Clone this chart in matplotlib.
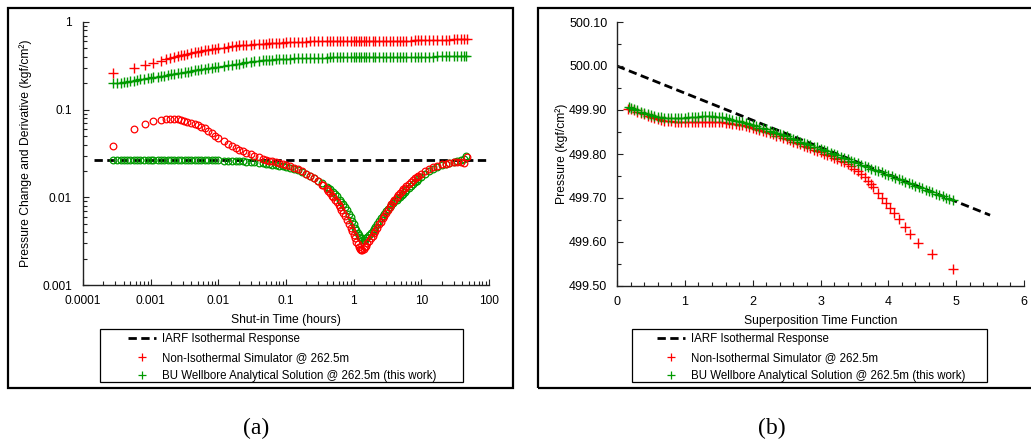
import numpy as np
import matplotlib.pyplot as plt
from matplotlib.patches import Rectangle
from matplotlib.lines import Line2D
from matplotlib.ticker import FixedLocator, NullFormatter, MultipleLocator, FormatStrFormatter

plt.rcParams['font.family'] = ['Liberation Sans', 'DejaVu Sans']

RED = '#ff0000'
GREEN = '#009a00'

# ---- panel (a): log-log diagnostic ----
iarf_level = 0.0265
iarf_t = [0.000146, 100]

t_sim = [0.00028, 0.00056, 0.00083, 0.0011, 0.0014, 0.0017, 0.0019, 0.0022, 0.0025, 0.0028,
         0.0031, 0.0035, 0.004, 0.0045, 0.005, 0.0056, 0.0063, 0.0071, 0.008, 0.009,
         0.01, 0.012, 0.014, 0.016, 0.018, 0.02, 0.023, 0.026, 0.03, 0.034,
         0.04, 0.045, 0.05, 0.056, 0.063, 0.07, 0.08, 0.09, 0.1, 0.115,
         0.13, 0.15, 0.17, 0.2, 0.23, 0.26, 0.3, 0.34, 0.4, 0.45,
         0.5, 0.56, 0.63, 0.7, 0.8, 0.9, 1.0, 1.1, 1.2, 1.3,
         1.4, 1.5, 1.7, 1.9, 2.1, 2.4, 2.7, 3.0, 3.4, 3.8,
         4.3, 4.8, 5.4, 6, 7, 8, 9, 10, 11.5, 13,
         15, 17, 20, 23, 26, 30, 34, 38, 43, 47]
dp_sim = [0.265, 0.295, 0.322, 0.342, 0.36, 0.375, 0.387, 0.40, 0.41, 0.418,
          0.425, 0.433, 0.442, 0.45, 0.46, 0.468, 0.475, 0.482, 0.49, 0.496,
          0.50, 0.51, 0.52, 0.53, 0.535, 0.54, 0.545, 0.55, 0.553, 0.557,
          0.561, 0.564, 0.567, 0.57, 0.573, 0.576, 0.58, 0.583, 0.585, 0.588,
          0.59, 0.592, 0.594, 0.597, 0.60, 0.602, 0.604, 0.605, 0.606, 0.607,
          0.608, 0.608, 0.607, 0.607, 0.606, 0.606, 0.606, 0.606, 0.606, 0.607,
          0.607, 0.607, 0.607, 0.608, 0.608, 0.608, 0.609, 0.609, 0.61, 0.61,
          0.611, 0.612, 0.613, 0.614, 0.615, 0.616, 0.617, 0.618, 0.62, 0.621,
          0.622, 0.624, 0.627, 0.629, 0.631, 0.632, 0.634, 0.635, 0.636, 0.636]
dd_sim = [0.0383, 0.060, 0.068, 0.074, 0.0765, 0.0777, 0.078, 0.078, 0.0775, 0.0765,
          0.075, 0.073, 0.071, 0.0685, 0.0665, 0.064, 0.061, 0.057, 0.0535, 0.0505,
          0.048, 0.044, 0.041, 0.0385, 0.0365, 0.035, 0.0335, 0.0322, 0.031, 0.0298,
          0.0285, 0.0277, 0.027, 0.0263, 0.0257, 0.0251, 0.0245, 0.0238, 0.0233, 0.0225,
          0.0218, 0.0208, 0.0199, 0.0187, 0.0175, 0.0164, 0.0152, 0.014, 0.0124, 0.0111,
          0.010, 0.0089, 0.0078, 0.0067, 0.0055, 0.0045, 0.0037, 0.0031, 0.0027, 0.0025,
          0.0026, 0.0028, 0.0032, 0.0036, 0.0041, 0.0049, 0.0058, 0.0066, 0.0078, 0.0088,
          0.0100, 0.0112, 0.0124, 0.0134, 0.0150, 0.0164, 0.0176, 0.0186, 0.0198, 0.0208,
          0.022, 0.0229, 0.0237, 0.0243, 0.0247, 0.025, 0.0252, 0.0253, 0.0245, 0.0288]

# extra simulator derivative samples read in the steep dip (t, value)
t_sim_dip = [0.35, 0.42, 0.48, 0.53, 0.6, 0.66, 0.75, 0.85, 0.95, 1.05,
             1.15, 1.25, 1.35, 1.45, 1.6, 1.8, 2.0, 2.25, 2.55, 2.85,
             3.2, 3.6, 4.0, 4.55, 5.1, 5.7, 6.5, 7.5, 8.5]
dd_sim_dip = [0.0137, 0.0118, 0.0104, 0.0094, 0.0082, 0.0072, 0.0061, 0.0050, 0.0041, 0.0034,
              0.0029, 0.0026, 0.0025, 0.0027, 0.0030, 0.0034, 0.0039, 0.0045, 0.0053, 0.0062,
              0.0072, 0.0083, 0.0094, 0.0106, 0.0118, 0.0129, 0.0142, 0.0157, 0.0170]

t_bu = [0.00028, 0.00032, 0.00036, 0.0004, 0.00045, 0.0005, 0.00056, 0.00063, 0.0007, 0.0008,
        0.0009, 0.001, 0.0011, 0.0013, 0.0014, 0.0016, 0.0018, 0.002, 0.0022, 0.0025,
        0.0028, 0.0032, 0.0036, 0.004, 0.0045, 0.005, 0.0056, 0.0063, 0.007, 0.008,
        0.009, 0.01, 0.012, 0.014, 0.016, 0.018, 0.02, 0.023, 0.026, 0.03,
        0.034, 0.04, 0.045, 0.05, 0.056, 0.063, 0.07, 0.08, 0.09, 0.1,
        0.115, 0.13, 0.15, 0.17, 0.2, 0.23, 0.26, 0.3, 0.34, 0.4,
        0.45, 0.5, 0.56, 0.63, 0.7, 0.8, 0.9, 1.0, 1.1, 1.2,
        1.3, 1.4, 1.5, 1.7, 1.9, 2.1, 2.4, 2.7, 3.0, 3.4,
        3.8, 4.3, 4.8, 5.4, 6, 7, 8, 9, 10, 11.5,
        13, 15, 17, 20, 23, 26, 30, 34, 38, 43, 46]
dp_bu = [0.199, 0.201, 0.204, 0.206, 0.209, 0.212, 0.215, 0.218, 0.221, 0.224,
         0.227, 0.230, 0.233, 0.238, 0.241, 0.245, 0.249, 0.252, 0.255, 0.259,
         0.263, 0.268, 0.272, 0.276, 0.281, 0.286, 0.29, 0.294, 0.298, 0.302,
         0.306, 0.309, 0.316, 0.321, 0.327, 0.332, 0.336, 0.341, 0.346, 0.351,
         0.355, 0.36, 0.364, 0.367, 0.37, 0.373, 0.375, 0.378, 0.38, 0.381,
         0.383, 0.385, 0.386, 0.387, 0.389, 0.39, 0.391, 0.392, 0.393, 0.393,
         0.394, 0.394, 0.394, 0.394, 0.394, 0.394, 0.394, 0.394, 0.394, 0.394,
         0.394, 0.394, 0.394, 0.395, 0.395, 0.395, 0.395, 0.395, 0.396, 0.396,
         0.396, 0.396, 0.396, 0.396, 0.397, 0.398, 0.399, 0.40, 0.401, 0.402,
         0.403, 0.404, 0.405, 0.406, 0.407, 0.408, 0.409, 0.41, 0.41, 0.411, 0.411]
dd_bu = [0.0266, 0.0266, 0.0266, 0.0266, 0.0266, 0.0266, 0.0266, 0.0266, 0.0266, 0.0266,
         0.0266, 0.0266, 0.0266, 0.0266, 0.0266, 0.0266, 0.0266, 0.0266, 0.0266, 0.0266,
         0.0266, 0.0266, 0.0266, 0.0266, 0.0266, 0.0266, 0.0265, 0.0265, 0.0265, 0.0265,
         0.0264, 0.0264, 0.0263, 0.0262, 0.0261, 0.026, 0.0259, 0.0257, 0.0255, 0.0252,
         0.025, 0.0247, 0.0244, 0.0242, 0.0239, 0.0236, 0.0233, 0.0229, 0.0225, 0.0221,
         0.0216, 0.0211, 0.0204, 0.0197, 0.0187, 0.0177, 0.0168, 0.0155, 0.0144, 0.0132,
         0.0123, 0.0114, 0.0104, 0.0093, 0.0083, 0.0071, 0.0059, 0.0049, 0.0042, 0.0037,
         0.0034, 0.0033, 0.0034, 0.0037, 0.0041, 0.0046, 0.0054, 0.0062, 0.0069, 0.0078,
         0.0086, 0.0094, 0.0100, 0.011, 0.012, 0.0135, 0.0149, 0.016, 0.0172, 0.0187,
         0.0199, 0.0212, 0.0222, 0.0234, 0.0242, 0.0249, 0.0255, 0.026, 0.0265, 0.0272, 0.030]

# extra analytical derivative samples read in the dip (t, value)
t_bu_dip = [0.42, 0.53, 0.66, 0.75, 0.85, 0.95, 1.05, 1.15, 1.25, 1.35,
            1.45, 1.6, 1.8, 2.0, 2.25, 2.55, 2.85, 3.2, 3.6, 4.0,
            4.55, 5.1, 5.7, 6.5, 7.5, 8.5]
dd_bu_dip = [0.0127, 0.0108, 0.0088, 0.0077, 0.0065, 0.0054, 0.0045, 0.0039, 0.0035, 0.0033,
             0.0033, 0.0035, 0.0039, 0.0043, 0.0050, 0.0058, 0.0065, 0.0074, 0.0082, 0.0090,
             0.0097, 0.0105, 0.0115, 0.0128, 0.0142, 0.0155]

# ---- panel (b): superposition plot ----
iarf_x = [0.0, 5.5]
iarf_p = [500.0, 499.661]

x_sim = [0.16, 0.2, 0.25, 0.3, 0.35, 0.4, 0.45, 0.5, 0.55, 0.6,
         0.65, 0.7, 0.75, 0.8, 0.85, 0.9, 0.95, 1.0, 1.05, 1.1,
         1.15, 1.2, 1.25, 1.3, 1.35, 1.4, 1.45, 1.5, 1.55, 1.6,
         1.65, 1.7, 1.75, 1.8, 1.85, 1.9, 1.95, 2.0, 2.05, 2.1,
         2.15, 2.2, 2.25, 2.3, 2.35, 2.4, 2.45, 2.5, 2.55, 2.6,
         2.65, 2.7, 2.75, 2.8, 2.85, 2.9, 2.95, 3.0, 3.05, 3.1,
         3.15, 3.2, 3.25, 3.3, 3.35, 3.4, 3.45, 3.5, 3.55, 3.6,
         3.65, 3.7, 3.74, 3.78, 3.85, 3.9, 3.97, 4.03, 4.09, 4.16,
         4.24, 4.32, 4.44, 4.64, 4.95]
p_sim = [499.903, 499.902, 499.899, 499.896, 499.893, 499.890, 499.887, 499.884, 499.881, 499.879,
         499.877, 499.876, 499.875, 499.874, 499.873, 499.873, 499.873, 499.873, 499.873, 499.873,
         499.873, 499.873, 499.873, 499.873, 499.873, 499.873, 499.873, 499.872, 499.872, 499.871,
         499.870, 499.869, 499.868, 499.866, 499.865, 499.863, 499.861, 499.859, 499.857, 499.855,
         499.852, 499.850, 499.847, 499.845, 499.842, 499.840, 499.837, 499.834, 499.831, 499.828,
         499.825, 499.822, 499.819, 499.816, 499.813, 499.810, 499.807, 499.804, 499.801, 499.798,
         499.795, 499.792, 499.789, 499.785, 499.781, 499.777, 499.772, 499.767, 499.761, 499.754,
         499.747, 499.739, 499.732, 499.726, 499.712, 499.700, 499.688, 499.677, 499.667, 499.652,
         499.635, 499.618, 499.597, 499.573, 499.538]

x_bu = [0.17, 0.2, 0.25, 0.3, 0.35, 0.4, 0.45, 0.5, 0.55, 0.6,
        0.65, 0.7, 0.75, 0.8, 0.85, 0.9, 0.95, 1.0, 1.05, 1.1,
        1.15, 1.2, 1.25, 1.3, 1.35, 1.4, 1.45, 1.5, 1.55, 1.6,
        1.65, 1.7, 1.75, 1.8, 1.85, 1.9, 1.95, 2.0, 2.05, 2.1,
        2.15, 2.2, 2.25, 2.3, 2.35, 2.4, 2.45, 2.5, 2.55, 2.6,
        2.65, 2.7, 2.75, 2.8, 2.85, 2.9, 2.95, 3.0, 3.05, 3.1,
        3.15, 3.2, 3.25, 3.3, 3.35, 3.4, 3.45, 3.5, 3.55, 3.6,
        3.65, 3.7, 3.75, 3.8, 3.85, 3.9, 3.95, 4.0, 4.05, 4.1,
        4.15, 4.2, 4.25, 4.3, 4.35, 4.4, 4.45, 4.5, 4.55, 4.6,
        4.65, 4.7, 4.75, 4.8, 4.85, 4.9, 4.95]
p_bu = [499.907, 499.905, 499.902, 499.899, 499.896, 499.893, 499.890, 499.888, 499.886, 499.884,
        499.883, 499.882, 499.881, 499.881, 499.881, 499.881, 499.882, 499.882, 499.883, 499.884,
        499.885, 499.885, 499.886, 499.886, 499.886, 499.886, 499.885, 499.884, 499.883, 499.882,
        499.880, 499.878, 499.876, 499.874, 499.872, 499.870, 499.868, 499.866, 499.863, 499.860,
        499.858, 499.856, 499.853, 499.850, 499.848, 499.845, 499.843, 499.840, 499.837, 499.834,
        499.831, 499.828, 499.826, 499.823, 499.820, 499.817, 499.815, 499.812, 499.809, 499.806,
        499.803, 499.800, 499.797, 499.794, 499.791, 499.788, 499.785, 499.782, 499.779, 499.776,
        499.773, 499.770, 499.767, 499.764, 499.761, 499.758, 499.755, 499.752, 499.749, 499.746,
        499.743, 499.740, 499.737, 499.734, 499.731, 499.728, 499.725, 499.722, 499.719, 499.716,
        499.713, 499.710, 499.707, 499.704, 499.701, 499.698, 499.695]

labels = ['IARF Isothermal Response',
          'Non-Isothermal Simulator @ 262.5m',
          'BU Wellbore Analytical Solution @ 262.5m (this work)']

W, H = 1031, 443
fig = plt.figure(figsize=(W / 100, H / 100), dpi=100)

def fx(px):
    return px / W

def fy(py):
    return 1 - py / H

LFS = 8.7
plus_kw = dict(marker='+', ls='none', ms=6.5, mew=1.0)
circ_kw = dict(marker='o', ls='none', ms=4.8, mew=0.9, mfc='none')
dash_kw = dict(color='black', lw=2.0, dashes=(3, 1.6))


def style_axes(ax, fs, xpad, ypad):
    for s in ['top', 'right']:
        ax.spines[s].set_visible(False)
    for s in ['left', 'bottom']:
        ax.spines[s].set_linewidth(1.0)
        ax.spines[s].set_color('#222222')
    ax.tick_params(which='both', direction='in', labelsize=fs, colors='#222222',
                   labelcolor='black')
    ax.tick_params(axis='x', which='both', pad=xpad)
    ax.tick_params(axis='y', which='both', pad=ypad)
    ax.tick_params(which='major', length=4, width=0.8)
    ax.tick_params(which='minor', length=3, width=0.8)


# panel (a)
axa = fig.add_axes([fx(83), fy(285), fx(489 - 83), fy(22) - fy(285)])
axa.plot(iarf_t, [iarf_level, iarf_level], **dash_kw, zorder=1)
axa.plot(t_bu, dp_bu, color=GREEN, **plus_kw, zorder=2)
axa.plot(t_bu, dd_bu, color=GREEN, **circ_kw, zorder=2)
axa.plot(t_bu_dip, dd_bu_dip, color=GREEN, **circ_kw, zorder=2)
axa.plot(t_sim, dp_sim, color=RED, **plus_kw, zorder=3)
axa.plot(t_sim, dd_sim, color=RED, **circ_kw, zorder=3)
axa.plot(t_sim_dip, dd_sim_dip, color=RED, **circ_kw, zorder=3)
axa.set_xscale('log')
axa.set_yscale('log')
axa.set_xlim(1e-4, 100)
axa.set_ylim(1e-3, 1)
axa.xaxis.set_major_locator(FixedLocator([1e-4, 1e-3, 1e-2, 1e-1, 1, 10, 100]))
axa.set_xticklabels(['0.0001', '0.001', '0.01', '0.1', '1', '10', '100'])
axa.yaxis.set_major_locator(FixedLocator([1e-3, 1e-2, 1e-1, 1]))
axa.set_yticklabels(['0.001', '0.01', '0.1', '1'])
axa.xaxis.set_minor_formatter(NullFormatter())
axa.yaxis.set_minor_formatter(NullFormatter())
style_axes(axa, 8.6, 7, 8)
axa.set_xlabel('Shut-in Time (hours)', fontsize=LFS, labelpad=5)
axa.set_ylabel('Pressure Change and Derivative (kgf/cm\u00b2)', fontsize=LFS, labelpad=7)

# panel (b)
axb = fig.add_axes([fx(617), fy(286), fx(1024 - 617), fy(22) - fy(286)])
axb.plot(iarf_x, iarf_p, **dash_kw, zorder=1)
axb.plot(x_sim, p_sim, color=RED, **plus_kw, zorder=2)
axb.plot(x_bu, p_bu, color=GREEN, **plus_kw, zorder=3)
axb.set_xlim(0, 6)
axb.set_ylim(499.5, 500.1)
axb.xaxis.set_major_locator(MultipleLocator(1))
axb.xaxis.set_minor_locator(MultipleLocator(0.2))
axb.yaxis.set_major_locator(MultipleLocator(0.1))
axb.yaxis.set_minor_locator(MultipleLocator(0.05))
axb.yaxis.set_major_formatter(FormatStrFormatter('%.2f'))
style_axes(axb, 9, 7, 7)
axb.set_xlabel('Superposition Time Function', fontsize=LFS, labelpad=5)
axb.set_ylabel('Pressure (kgf/cm\u00b2)', fontsize=LFS, labelpad=1)

# outer frames
fig.patches.append(Rectangle((fx(8), fy(388)), fx(513 - 8), fy(8) - fy(388), transform=fig.transFigure,
                             fill=False, ec='black', lw=1.6))
fig.patches.append(Rectangle((fx(538), fy(388)), fx(1045 - 538), fy(8) - fy(388), transform=fig.transFigure,
                             fill=False, ec='black', lw=1.6))

# legends
handles = [Line2D([], [], **dash_kw),
           Line2D([], [], color=RED, marker='+', ls='none', ms=6, mew=0.9),
           Line2D([], [], color=GREEN, marker='+', ls='none', ms=6, mew=0.9)]

for box_l, box_r, hx in [(100, 463, 126), (632, 987, 655)]:
    fig.patches.append(Rectangle((fx(box_l), fy(382)), fx(box_r - box_l), fy(329) - fy(382),
                                 transform=fig.transFigure, fill=False, ec='black', lw=0.9))
    fig.legend(handles, labels, loc='upper left', bbox_to_anchor=(fx(hx), fy(331)),
               frameon=False, fontsize=8.3, handlelength=2.4, handletextpad=0.5,
               labelspacing=0.55, borderpad=0.2, borderaxespad=0)

fig.text(fx(256), fy(428), '(a)', ha='center', va='center', fontsize=17, family='Liberation Serif')
fig.text(fx(772), fy(428), '(b)', ha='center', va='center', fontsize=17, family='Liberation Serif')

fig.savefig('out.png', dpi=100)
